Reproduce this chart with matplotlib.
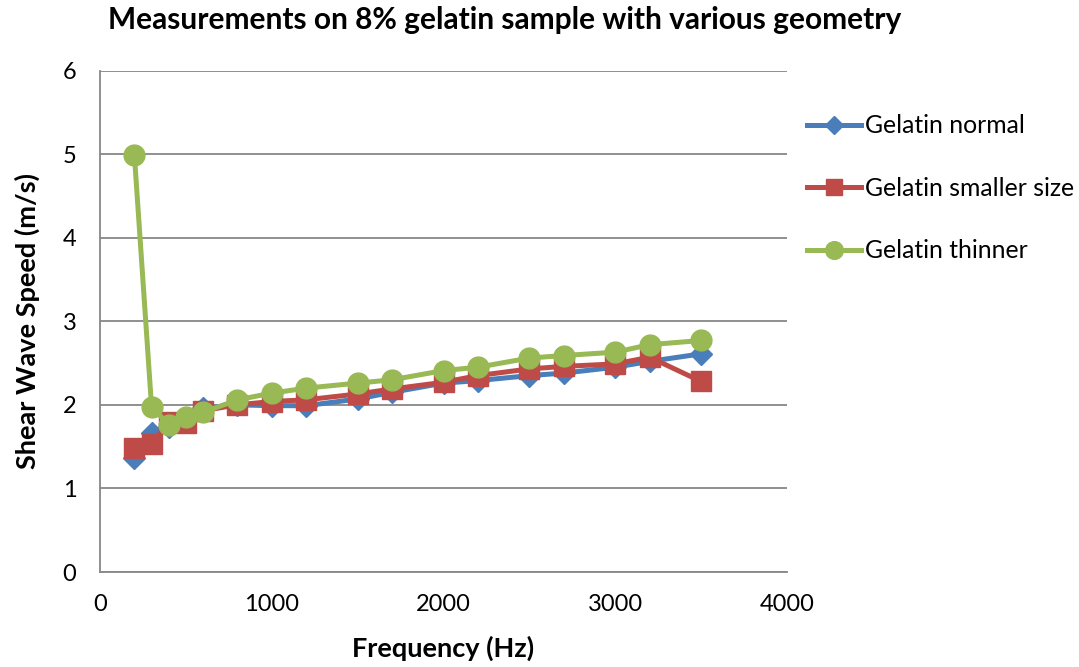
import matplotlib
matplotlib.use("Agg")
import matplotlib.pyplot as plt

plt.rcParams['font.family'] = ['Lato', 'DejaVu Sans']

freq = [200, 300, 400, 500, 600, 800, 1000, 1200, 1500, 1700, 2000, 2200, 2500, 2700, 3000, 3200, 3500]
normal = [1.37, 1.66, 1.73, 1.82, 1.96, 2.00, 1.99, 1.99, 2.07, 2.15, 2.26, 2.29, 2.35, 2.38, 2.45, 2.52, 2.61]
smaller = [1.48, 1.53, 1.80, 1.78, 1.93, 2.00, 2.04, 2.06, 2.13, 2.19, 2.27, 2.35, 2.43, 2.46, 2.49, 2.57, 2.28]
thinner = [4.99, 1.98, 1.76, 1.86, 1.91, 2.06, 2.14, 2.20, 2.26, 2.30, 2.41, 2.45, 2.56, 2.59, 2.63, 2.72, 2.77]

labels = ["Gelatin normal", "Gelatin smaller size", "Gelatin thinner"]
xticks = [0, 1000, 2000, 3000, 4000]
yticks = [0, 1, 2, 3, 4, 5, 6]

fig = plt.figure(figsize=(10.79, 6.67), dpi=100)
ax = fig.add_axes([0.0927, 0.1424, 0.6367, 0.7519])

ax.plot(freq, normal, color='#4A7EBB', lw=3.6, marker='D', ms=11, label=labels[0], zorder=3)
ax.plot(freq, smaller, color='#BE4B48', lw=3.6, marker='s', ms=14, label=labels[1], zorder=4)
ax.plot(freq, thinner, color='#98B954', lw=3.6, marker='o', ms=15, label=labels[2], zorder=5)

ax.set_xlim(0, 4000)
ax.set_ylim(0, 6)
ax.set_xticks(xticks)
ax.set_yticks(yticks)
ax.tick_params(length=0, labelsize=17)
ax.tick_params(axis='y', pad=17)
ax.tick_params(axis='x', pad=16)
ax.yaxis.grid(True, color='#878787', lw=1.3)
ax.set_axisbelow(True)
for s in ['top', 'right']:
    ax.spines[s].set_visible(False)
ax.spines['left'].set_color('#878787')
ax.spines['left'].set_linewidth(1.3)
ax.spines['bottom'].set_color('#878787')
ax.spines['bottom'].set_linewidth(1.3)

ax.set_xlabel("Frequency (Hz)", fontsize=19.5, fontweight='bold', labelpad=15)
ax.set_ylabel("Shear Wave Speed (m/s)", fontsize=19.5, fontweight='bold', labelpad=16)
fig.text(0.468, 0.97, "Measurements on 8% gelatin sample with various geometry",
         ha='center', va='center', fontsize=21.5, fontweight='bold')

leg = ax.legend(loc='center left', bbox_to_anchor=(1.029, 0.765), frameon=False,
                borderpad=0, borderaxespad=0, markerscale=0.85,
                fontsize=17.8, labelspacing=1.6, handlelength=2.2, handletextpad=0.15)

fig.savefig("out.png", dpi=100)
